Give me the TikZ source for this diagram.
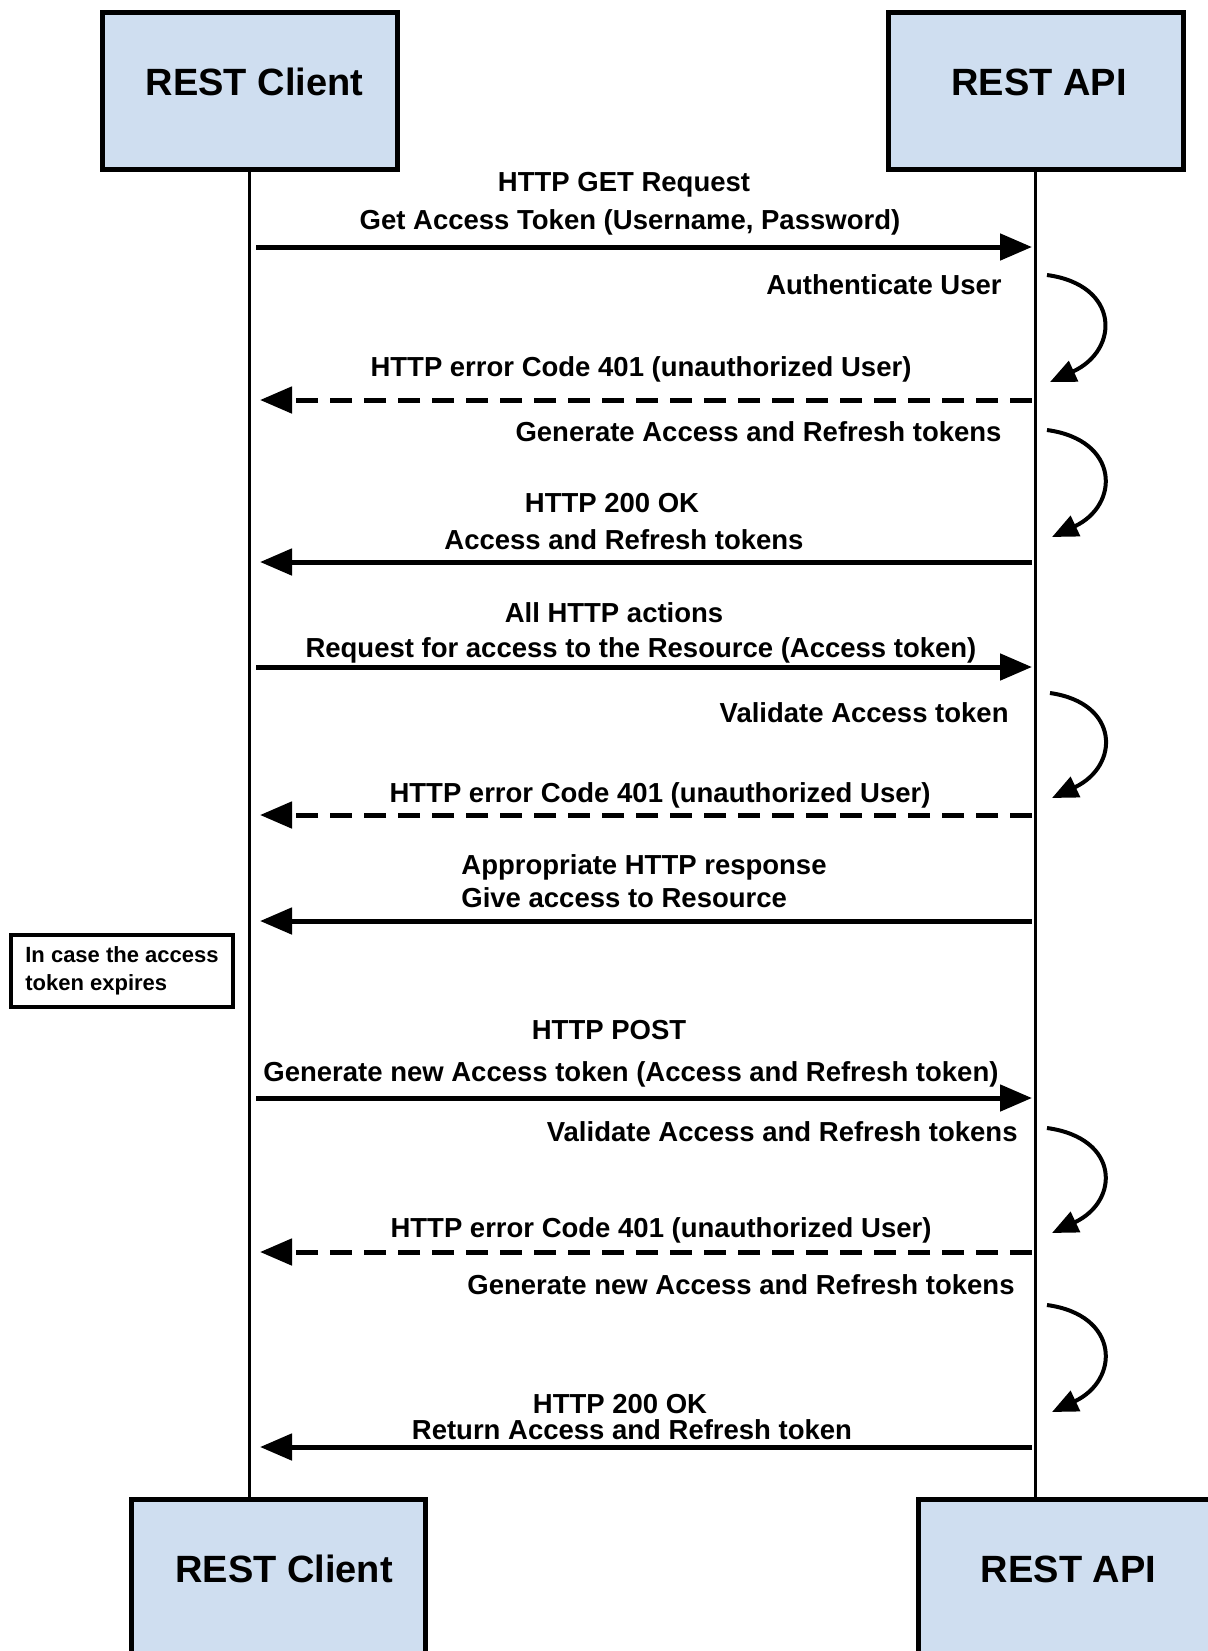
\documentclass[tikz,border=0pt]{standalone}
\usepackage{fontspec}
\setmainfont{Liberation Sans}
\usetikzlibrary{arrows.meta}
\definecolor{boxblue}{RGB}{207,222,240}
\begin{document}
\begin{tikzpicture}[x=0.5pt,y=-0.5pt,
  actor/.style={draw=black, line width=2.5pt, fill=boxblue, rectangle, inner sep=0pt},
  title/.style={font=\fontsize{19pt}{22pt}\selectfont\bfseries, anchor=base, inner sep=0pt},
  lbl/.style={font=\fontsize{13.75pt}{16pt}\selectfont\bfseries, anchor=base, inner sep=0pt},
  lblr/.style={lbl, anchor=base east},
  lbll/.style={lbl, anchor=base west},
  notebox/.style={draw=black, line width=1.75pt, rectangle, minimum width=111pt, minimum height=36pt,
    inner sep=0pt, align=left,
    font=\fontsize{11pt}{14pt}\selectfont\bfseries},
  lifeline/.style={line width=1.75pt},
  msg/.style={line width=2.5pt, -{Triangle[length=16pt,width=13pt]}},
  reply/.style={msg, dash pattern=on 11pt off 6pt},
  selfarr/.style={line width=2pt, -{Triangle[length=13pt,width=11pt]}},
]
\useasboundingbox (0,0) rectangle (1208,1651);
\clip (0,0) rectangle (1208,1651);
\fill[white] (0,0) rectangle (1208,1651);

% actor boxes
\node[actor, minimum width=147.5pt, minimum height=78.5pt] (cTop) at (249.5,90.5) {};
\node[actor, minimum width=147.5pt, minimum height=78.5pt] (aTop) at (1035.5,90.5) {};
\node[actor, minimum width=147pt, minimum height=100pt] (cBot) at (278.5,1599.5) {};
\node[actor, minimum width=150.75pt, minimum height=100pt] (aBot) at (1069.25,1599.5) {};
\node[title] (cTopT) at (254.5,95) {REST Client};
\node[title] (aTopT) at (1039,95) {REST API};
\node[title] (cBotT) at (284,1582) {REST Client};
\node[title] (aBotT) at (1068.5,1582) {REST API};

% lifelines
\draw[lifeline] (cTop.south) -- (cTop.south |- cBot.north);
\draw[lifeline] (aTop.south) -- (aTop.south |- aBot.north);

% message 1
\node[lbl] (t1a) at (624,191.5) {HTTP GET Request};
\node[lbl] (t1b) at (630,229.5) {Get Access Token (Username, Password)};
\coordinate (m1s) at (256,247); \coordinate (m1e) at (1032,247);
\draw[msg] (m1s) -- (m1e);

% self 1
\node[lblr] (t2) at (1002,294.5) {Authenticate User};
\coordinate (s1a) at (1047,275); \coordinate (s1b) at (1050,382);
\draw[selfarr] (s1a) .. controls (1120,285) and (1120,350) .. (s1b);

% message 3
\node[lbl] (t3) at (641,376.5) {HTTP error Code 401 (unauthorized User)};
\coordinate (m3s) at (1032,400); \coordinate (m3e) at (260,400);
\draw[reply] (m3s) -- (m3e);

% self 2
\node[lblr] (t4) at (1002,441.5) {Generate Access and Refresh tokens};
\coordinate (s2a) at (1047,430); \coordinate (s2b) at (1052,537);
\draw[selfarr] (s2a) .. controls (1120,440) and (1120,505) .. (s2b);

% message 5
\node[lbl] (t5a) at (612,512.5) {HTTP 200 OK};
\node[lbl] (t5b) at (624,549.5) {Access and Refresh tokens};
\coordinate (m5s) at (1032,562); \coordinate (m5e) at (260,562);
\draw[msg] (m5s) -- (m5e);

% message 6
\node[lbl] (t6a) at (614,622.5) {All HTTP actions};
\node[lbl] (t6b) at (641,657.5) {Request for access to the Resource (Access token)};
\coordinate (m6s) at (256,667); \coordinate (m6e) at (1032,667);
\draw[msg] (m6s) -- (m6e);

% self 3
\node[lblr] (t7) at (1009,722.5) {Validate Access token};
\coordinate (s3a) at (1050,693); \coordinate (s3b) at (1052,798);
\draw[selfarr] (s3a) .. controls (1120,703) and (1120,766) .. (s3b);

% message 8
\node[lbl] (t8) at (660,802.5) {HTTP error Code 401 (unauthorized User)};
\coordinate (m8s) at (1032,815); \coordinate (m8e) at (260,815);
\draw[reply] (m8s) -- (m8e);

% message 9
\node[lbll] (t9a) at (461,874.5) {Appropriate HTTP response};
\node[lbll] (t9b) at (461,907.5) {Give access to Resource};
\coordinate (m9s) at (1032,921); \coordinate (m9e) at (260,921);
\draw[msg] (m9s) -- (m9e);

% note
\node[notebox] (note) at (122,971) {In case the access\\token expires};

% message 11
\node[lbl] (t11a) at (609,1039.5) {HTTP POST};
\node[lbl] (t11b) at (631,1081.5) {Generate new Access token (Access and Refresh token)};
\coordinate (m11s) at (256,1098); \coordinate (m11e) at (1032,1098);
\draw[msg] (m11s) -- (m11e);

% self 4
\node[lblr] (t12) at (1018,1141.5) {Validate Access and Refresh tokens};
\coordinate (s4a) at (1047,1128); \coordinate (s4b) at (1052,1233);
\draw[selfarr] (s4a) .. controls (1120,1138) and (1120,1201) .. (s4b);

% message 13
\node[lbl] (t13) at (661,1237.5) {HTTP error Code 401 (unauthorized User)};
\coordinate (m13s) at (1032,1252); \coordinate (m13e) at (260,1252);
\draw[reply] (m13s) -- (m13e);

% self 5
\node[lblr] (t14) at (1015,1294.5) {Generate new Access and Refresh tokens};
\coordinate (s5a) at (1047,1305); \coordinate (s5b) at (1052,1412);
\draw[selfarr] (s5a) .. controls (1120,1315) and (1120,1380) .. (s5b);

% message 15
\node[lbl] (t15a) at (620,1413.5) {HTTP 200 OK};
\node[lbl] (t15b) at (632,1439.5) {Return Access and Refresh token};
\coordinate (m15s) at (1032,1447); \coordinate (m15e) at (260,1447);
\draw[msg] (m15s) -- (m15e);
\end{tikzpicture}
\end{document}
